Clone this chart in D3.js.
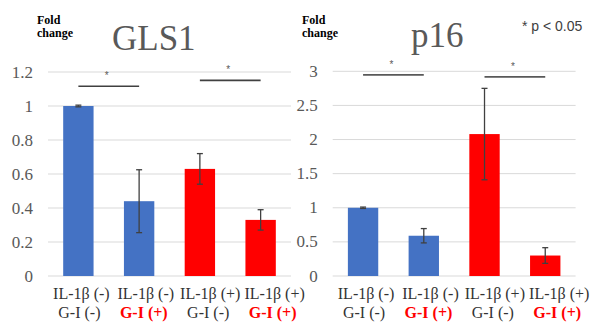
<!DOCTYPE html>
<html lang="en">
<head>
<meta charset="UTF-8">
<title>GLS1 / p16 fold change</title>
<script src="https://d3js.org/d3.v7.min.js"></script>
<style>
  body { margin: 0; background: #fff; }
  .grid line { stroke: #d9d9d9; stroke-width: 1; }
</style>
</head>
<body>
<svg id="chart" width="596" height="323"></svg>
<script>
// categories (two-line x labels)
const ilLabels = ["IL-1β (-)", "IL-1β (-)", "IL-1β (+)", "IL-1β (+)"];
const giLabels = ["G-I (-)", "G-I (+)", "G-I (-)", "G-I (+)"];
const giTreated = [false, true, false, true];
const ilTreated = [false, false, true, true];

// GLS1 panel
const gls1Values = [1.0, 0.44, 0.63, 0.33];
const gls1Errors = [0.005, 0.185, 0.09, 0.06];
const gls1Ticks = [0, 0.2, 0.4, 0.6, 0.8, 1, 1.2];
const gls1Brackets = [{ from: 0, to: 1, level: 1.116 }, { from: 2, to: 3, level: 1.151 }];

// p16 panel
const p16Values = [1.0, 0.59, 2.08, 0.30];
const p16Errors = [0.01, 0.105, 0.67, 0.115];
const p16Ticks = [0, 0.5, 1, 1.5, 2, 2.5, 3];
const p16Brackets = [{ from: 0, to: 1, level: 2.947 }, { from: 2, to: 3, level: 2.918 }];

const svg = d3.select("#chart");
const blue = "#4472C4", red = "#FF0000";
const SERIF = "Liberation Serif";
const SANS = "Liberation Sans";

function drawPanel(opt) {
  const idx = d3.range(ilLabels.length);
  const x = d3.scaleBand().domain(idx).range([opt.left, opt.right]).paddingInner(0.5).paddingOuter(0.25);
  const y = d3.scaleLinear().domain([0, d3.max(opt.ticks)]).range([276, opt.top]);
  const g = svg.append("g");

  // gridlines
  const grid = g.append("g").attr("class", "grid");
  grid.selectAll("line").data(opt.ticks).join("line")
    .attr("x1", opt.left).attr("x2", opt.right)
    .attr("y1", d => y(d)).attr("y2", d => y(d));

  // y tick labels
  g.selectAll(".tick-label").data(opt.ticks).join("text")
    .attr("class", "tick-label")
    .attr("font-family", SERIF).attr("font-size", 17).attr("fill", "#595959")
    .attr("x", opt.left - 15).attr("y", d => y(d))
    .attr("text-anchor", "end").attr("dominant-baseline", "central")
    .text(d => d);

  // bars
  g.selectAll(".bar").data(opt.values).join("rect")
    .attr("class", "bar")
    .attr("x", (d, i) => x(i)).attr("width", x.bandwidth())
    .attr("y", d => y(d)).attr("height", d => y(0) - y(d))
    .attr("fill", (d, i) => ilTreated[i] ? red : blue);

  // error bars
  const eb = g.append("g").attr("stroke", "#404040").attr("stroke-width", 1.3);
  idx.forEach(i => {
    const cx = x(i) + x.bandwidth() / 2;
    const lo = y(opt.values[i] - opt.errors[i]), hi = y(opt.values[i] + opt.errors[i]);
    eb.append("line").attr("x1", cx).attr("x2", cx).attr("y1", lo).attr("y2", hi);
    eb.append("line").attr("x1", cx - 3).attr("x2", cx + 3).attr("y1", lo).attr("y2", lo);
    eb.append("line").attr("x1", cx - 3).attr("x2", cx + 3).attr("y1", hi).attr("y2", hi);
  });

  // significance brackets
  opt.brackets.forEach(b => {
    const x1 = x(b.from) + x.bandwidth() / 2, x2 = x(b.to) + x.bandwidth() / 2;
    g.append("line").attr("x1", x1).attr("x2", x2)
      .attr("y1", y(b.level)).attr("y2", y(b.level))
      .attr("stroke", opt.bracketColor).attr("stroke-width", 1.6);
    g.append("text").attr("x", (x1 + x2) / 2 - 2).attr("y", y(b.level) - 7)
      .attr("text-anchor", "middle").attr("font-size", 10).attr("fill", "#595959")
      .attr("font-family", SANS).text("*");
  });

  // x labels (spread slightly wider than the bars)
  const lx = d3.scalePoint().domain(idx)
    .range([x(0) + x.bandwidth() / 2 + 1, x(3) + x.bandwidth() / 2 + 12]);
  idx.forEach(i => {
    g.append("text").attr("font-family", SERIF)
      .attr("x", lx(i) + 2).attr("y", 299).attr("text-anchor", "middle")
      .attr("font-size", 16).attr("fill", "#333").text(ilLabels[i]);
    g.append("text").attr("font-family", SERIF)
      .attr("x", lx(i)).attr("y", 318).attr("text-anchor", "middle")
      .attr("font-size", 16)
      .attr("font-weight", giTreated[i] ? "bold" : "normal")
      .attr("fill", giTreated[i] ? red : "#333").text(giLabels[i]);
  });

  // "Fold change"
  const fc = g.append("text").attr("font-family", SERIF).attr("font-size", 12)
    .attr("font-weight", "bold").attr("fill", "#000");
  fc.append("tspan").attr("x", opt.foldX).attr("y", 24).text("Fold");
  fc.append("tspan").attr("x", opt.foldX).attr("y", 37).text("change");

  // title
  g.append("text").attr("font-family", SERIF)
    .attr("x", opt.titleX).attr("y", opt.titleY)
    .attr("font-size", 35).attr("fill", "#595959").text(opt.title);
}

drawPanel({
  left: 48, right: 291, top: 72,
  values: gls1Values, errors: gls1Errors, ticks: gls1Ticks, brackets: gls1Brackets,
  bracketColor: "#404040", title: "GLS1", titleX: 112, titleY: 50, foldX: 37
});
drawPanel({
  left: 332.7, right: 575.6, top: 71.3,
  values: p16Values, errors: p16Errors, ticks: p16Ticks, brackets: p16Brackets,
  bracketColor: "#595959", title: "p16", titleX: 411, titleY: 47, foldX: 302
});

// p-value note
svg.append("text").attr("x", 522).attr("y", 31)
  .attr("font-family", SANS)
  .attr("font-size", 14).attr("fill", "#404040").text("* p < 0.05");
</script>
</body>
</html>
